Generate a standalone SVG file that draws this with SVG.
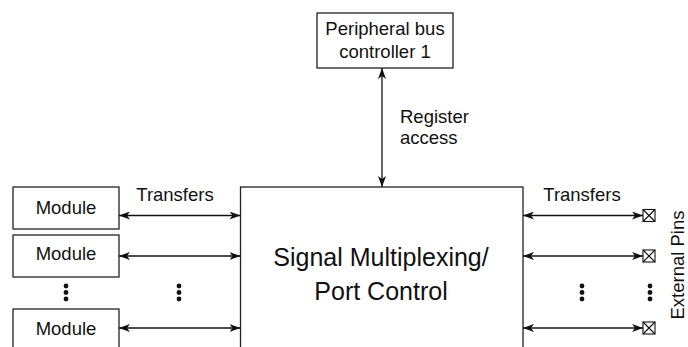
<svg xmlns="http://www.w3.org/2000/svg" width="688" height="347" viewBox="0 0 688 347">
  <style>
    .box { fill: #fff; stroke: #222; stroke-width: 1.3; }
    .t { font-family: "Liberation Sans", Arial, sans-serif; font-size: 18.5px; fill: #111; }
    .big { font-family: "Liberation Sans", Arial, sans-serif; font-size: 25px; fill: #111; }
    .ln { stroke: #111; stroke-width: 1.3; fill: none; marker-start: url(#ah); marker-end: url(#ah); }
    .dot { fill: #111; }
    .pin { fill: #fff; stroke: #111; stroke-width: 1.1; }
  </style>
  <defs>
    <marker id="ah" viewBox="0 0 11 8" refX="11" refY="4" markerWidth="11" markerHeight="8" markerUnits="userSpaceOnUse" orient="auto-start-reverse">
      <path d="M0,0 L11,4 L0,8 L3,4 z" fill="#111"/>
    </marker>
  </defs>
  <rect width="688" height="347" fill="#fff"/>

  <g id="pbc">
    <rect class="box" x="317" y="13" width="136" height="55"/>
    <text class="t" x="385" y="35" text-anchor="middle">Peripheral bus</text>
    <text class="t" x="385" y="58" text-anchor="middle">controller 1</text>
  </g>

  <g id="spc">
    <rect class="box" x="240.5" y="187" width="282.5" height="180"/>
    <text class="big" x="381" y="266" text-anchor="middle">Signal Multiplexing/</text>
    <text class="big" x="381" y="300" text-anchor="middle">Port Control</text>
  </g>

  <g id="module1">
    <rect class="box" x="13" y="187" width="106" height="42"/>
    <text class="t" x="66" y="214" text-anchor="middle">Module</text>
  </g>
  <g id="module2">
    <rect class="box" x="13" y="235" width="106" height="42"/>
    <text class="t" x="66" y="260" text-anchor="middle">Module</text>
  </g>
  <g id="module3">
    <rect class="box" x="13" y="309" width="106" height="50"/>
    <text class="t" x="66" y="335" text-anchor="middle">Module</text>
  </g>

  <g id="pins">
    <g class="pin">
      <rect x="643" y="209.5" width="12" height="12"/>
      <path d="M643,209.5 L655,221.5 M655,209.5 L643,221.5"/>
      <rect x="643" y="250" width="12" height="12"/>
      <path d="M643,250 L655,262 M655,250 L643,262"/>
      <rect x="643" y="322" width="12" height="12"/>
      <path d="M643,322 L655,334 M655,322 L643,334"/>
    </g>
    <text class="t" transform="translate(684,265) rotate(-90)" text-anchor="middle">External Pins</text>
  </g>

  <g id="connectors">
    <line class="ln" x1="382" y1="68" x2="382" y2="187"/>
    <line class="ln" x1="119" y1="215.5" x2="240.5" y2="215.5"/>
    <line class="ln" x1="119" y1="256" x2="240.5" y2="256"/>
    <line class="ln" x1="119" y1="328" x2="240.5" y2="328"/>
    <line class="ln" x1="523" y1="215.5" x2="643" y2="215.5"/>
    <line class="ln" x1="523" y1="256" x2="643" y2="256"/>
    <line class="ln" x1="523" y1="328" x2="643" y2="328"/>
  </g>

  <g id="labels">
    <text class="t" x="400" y="123">Register</text>
    <text class="t" x="400" y="144">access</text>
    <text class="t" x="175" y="201" text-anchor="middle">Transfers</text>
    <text class="t" x="582" y="201" text-anchor="middle">Transfers</text>
  </g>

  <g id="dots">
    <circle class="dot" cx="66" cy="286" r="2.4"/>
    <circle class="dot" cx="66" cy="292.5" r="2.4"/>
    <circle class="dot" cx="66" cy="299" r="2.4"/>
    <circle class="dot" cx="179" cy="286" r="2.4"/>
    <circle class="dot" cx="179" cy="292.5" r="2.4"/>
    <circle class="dot" cx="179" cy="299" r="2.4"/>
    <circle class="dot" cx="582" cy="286" r="2.4"/>
    <circle class="dot" cx="582" cy="292.5" r="2.4"/>
    <circle class="dot" cx="582" cy="299" r="2.4"/>
    <circle class="dot" cx="650" cy="286" r="2.4"/>
    <circle class="dot" cx="650" cy="292.5" r="2.4"/>
    <circle class="dot" cx="650" cy="299" r="2.4"/>
  </g>
</svg>
